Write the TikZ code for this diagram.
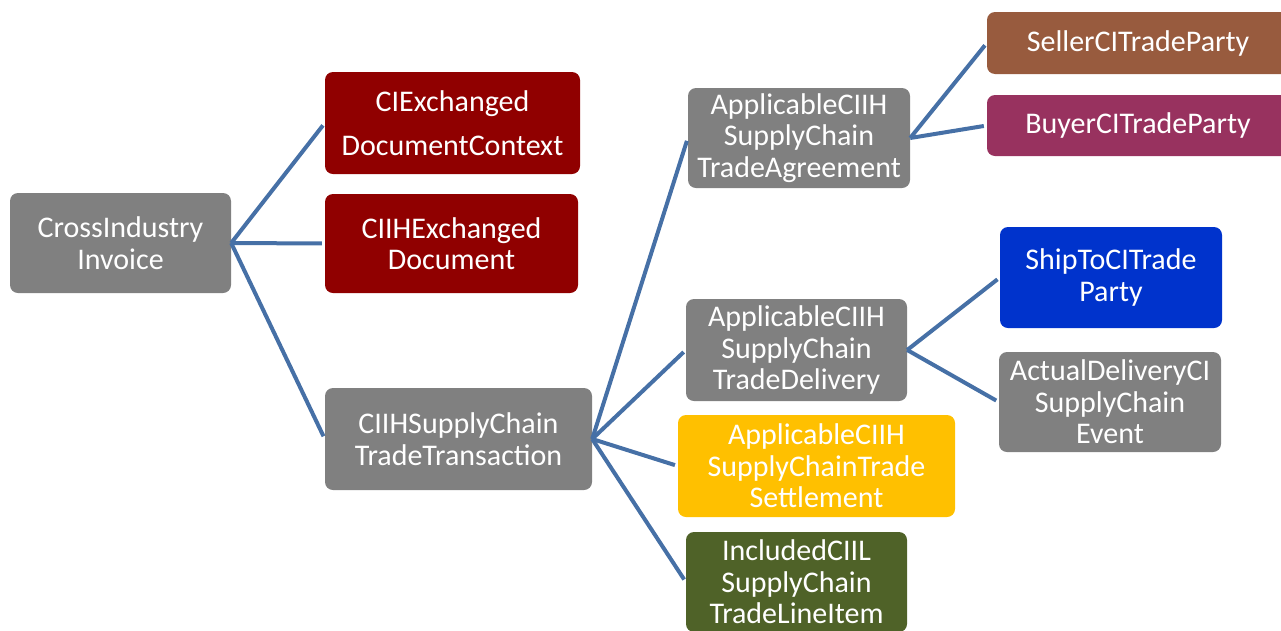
\documentclass[tikz,border=0pt]{standalone}
\usepackage{fontspec}
\setmainfont{Carlito}
\definecolor{cgray}{HTML}{808080}
\definecolor{cred}{HTML}{900000}
\definecolor{cbrown}{HTML}{985B3E}
\definecolor{cpurple}{HTML}{98325F}
\definecolor{cblue}{HTML}{0033CC}
\definecolor{cyellow}{HTML}{FFC000}
\definecolor{colive}{HTML}{4F6228}
\definecolor{cline}{HTML}{4670A6}
\tikzset{
  box/.style={rounded corners=8pt, inner sep=0pt, align=center, text=white,
    font=\fontsize{30}{31.5}\selectfont},
  conn/.style={draw=cline, line width=4pt, shorten >=3pt}
}
\begin{document}
\begin{tikzpicture}[x=1pt,y=-1pt]
\useasboundingbox (0,0) rectangle (1281,630);
\clip (0,0) rectangle (1281,630);
\node[box, fill=cgray, minimum width=221pt, minimum height=100pt] (inv) at (120.5,243) {CrossIndustry\\Invoice};
\node[box, fill=cred, minimum width=255pt, minimum height=102pt] (ctx) at (452.5,123) {CIExchanged\\[12.5pt]DocumentContext};
\node[box, fill=cred, minimum width=253pt, minimum height=99pt] (doc) at (451.5,243.5) {CIIHExchanged\\Document};
\node[box, fill=cgray, minimum width=267pt, minimum height=102pt] (trans) at (458.5,439) {CIIHSupplyChain\\TradeTransaction};
\node[box, fill=cgray, minimum width=222pt, minimum height=100pt] (agr) at (799,138) {ApplicableCIIH\\SupplyChain\\TradeAgreement};
\node[box, fill=cbrown, minimum width=302pt, minimum height=62pt] (seller) at (1138,43) {SellerCITradeParty};
\node[box, fill=cpurple, minimum width=302pt, minimum height=61pt] (buyer) at (1138,125.5) {BuyerCITradeParty};
\node[box, fill=cgray, minimum width=221pt, minimum height=102pt] (del) at (796.5,350) {ApplicableCIIH\\SupplyChain\\TradeDelivery};
\node[box, fill=cblue, minimum width=222pt, minimum height=101pt] (ship) at (1111,277.5) {ShipToCITrade\\Party};
\node[box, fill=cgray, minimum width=222pt, minimum height=100pt] (evt) at (1110,402) {ActualDeliveryCI\\SupplyChain\\Event};
\node[box, fill=cyellow, minimum width=277pt, minimum height=102pt] (set) at (816.5,466) {ApplicableCIIH\\SupplyChainTrade\\Settlement};
\node[box, fill=colive, minimum width=221pt, minimum height=100pt] (line) at (796.5,582) {IncludedCIIL\\SupplyChain\\TradeLineItem};
\draw[conn] (inv.east) -- (ctx.west);
\draw[conn] (inv.east) -- (doc.west);
\draw[conn] (inv.east) -- (trans.west);
\draw[conn] (trans.east) -- (agr.west);
\draw[conn] (trans.east) -- (del.west);
\draw[conn] (trans.east) -- (set.west);
\draw[conn] (trans.east) -- (line.west);
\draw[conn] (agr.east) -- (seller.west);
\draw[conn] (agr.east) -- (buyer.west);
\draw[conn] (del.east) -- (ship.west);
\draw[conn] (del.east) -- (evt.west);
\end{tikzpicture}
\end{document}
